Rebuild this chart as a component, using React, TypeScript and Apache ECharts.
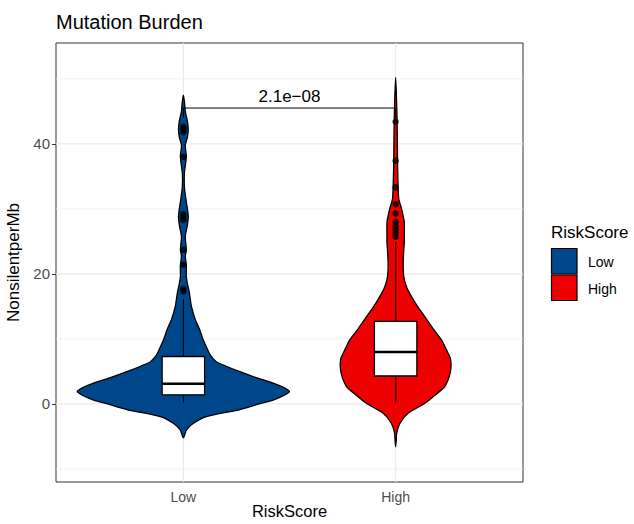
import React, { useEffect, useRef } from 'react';
import * as echarts from 'echarts';

// Groups and their positions on the x scale
const categories = ['Low', 'High'];
const categoryPositions = [1, 2];

// Violin outlines: NonsilentperMb value and half-width (x units) of the density
const lowViolinY = [-5.2, -4.0, -3.0, -1.95, -0.9, 0.0, 0.6, 1.3, 1.9, 2.5, 3.2, 4.0, 5.0, 5.8, 6.5, 7.5, 8.8, 10, 11.4, 13, 15, 16.5, 17.5, 18.5, 19.6, 21.4, 22.7, 23.7, 25.7, 27.5, 28.8, 30, 31.5, 33.4, 35.5, 38, 39.8, 41, 42.2, 43.5, 45, 46.5, 47.5];
const lowViolinHalfWidth = [0, 0.015, 0.046, 0.108, 0.263, 0.357, 0.423, 0.474, 0.5, 0.474, 0.423, 0.347, 0.263, 0.202, 0.155, 0.127, 0.108, 0.092, 0.077, 0.056, 0.038, 0.031, 0.026, 0.019, 0.014, 0.014, 0.009, 0.014, 0.009, 0.019, 0.023, 0.019, 0.012, 0.005, 0.005, 0.014, 0.009, 0.019, 0.023, 0.019, 0.009, 0.005, 0];
const highViolinY = [-6.6, -5.5, -4.5, -3.0, -1.4, 0.1, 1.4, 2.65, 3.6, 4.5, 5.4, 6.25, 7.1, 8, 9.85, 11.5, 13.4, 15, 16.5, 17.8, 19.1, 20.5, 22.2, 24, 24.9, 26.5, 27.9, 29, 30, 31.5, 33.3, 35.5, 37.5, 40.5, 43.4, 47, 50.2];
const highViolinHalfWidth = [0, 0.003, 0.005, 0.020, 0.060, 0.138, 0.188, 0.231, 0.246, 0.255, 0.260, 0.261, 0.257, 0.244, 0.216, 0.178, 0.138, 0.103, 0.075, 0.054, 0.041, 0.036, 0.036, 0.039, 0.041, 0.041, 0.041, 0.035, 0.028, 0.015, 0.012, 0.010, 0.009, 0.008, 0.007, 0.004, 0];

// Box statistics: lower whisker, Q1, median, Q3, upper whisker
const lowBoxStats = [0.2, 1.4, 3.1, 7.3, 16.1];
const highBoxStats = [0.2, 4.3, 8.0, 12.7, 24.9];

// Points beyond the whiskers
const lowOutliers = [17.3, 17.7, 21.4, 23.7, 28.3, 28.8, 29.2, 38.0, 41.8, 42.3, 42.6];
const highOutliers = [25.7, 26.2, 26.8, 27.3, 28.0, 29.3, 30.7, 33.3, 37.4, 43.4];

// Axis ticks and grid
const yTickValues = [0, 20, 40];
const yMinorValues = [-10, 10, 30, 50];

// Wilcoxon comparison bracket
const pValueText = '2.1e\u221208';
const bracketLevel = 45.5;
const bracketTipLevel = 44.0;

const xAxisTitle = 'RiskScore';
const fillColors = ['#00468B', '#ED0000'];
const FONT = '"Liberation Sans", Arial, Helvetica, sans-serif';

const violinY = [lowViolinY, highViolinY];
const violinW = [lowViolinHalfWidth, highViolinHalfWidth];
const boxStats = [lowBoxStats, highBoxStats];
const outliers = [lowOutliers, highOutliers];

export default function App() {
  const ref = useRef<HTMLDivElement>(null);

  useEffect(() => {
    if (!ref.current) return;
    const chart = echarts.init(ref.current, null, { renderer: 'svg' });

    const gridData: number[][] = [
      ...yTickValues.map((v) => [v, 1, 0]),
      ...yMinorValues.map((v) => [v, 0, 0]),
      ...categoryPositions.map((p) => [p, 1, 1]),
    ];

    const outlierData: number[][] = [];
    outliers.forEach((list, i) => list.forEach((v) => outlierData.push([categoryPositions[i], v])));

    const option: any = {
      animation: false,
      backgroundColor: '#ffffff',
      title: {
        text: 'Mutation Burden',
        left: 56,
        top: 12,
        padding: 0,
        textStyle: { fontFamily: FONT, fontSize: 20, fontWeight: 'normal', color: '#000' },
      },
      grid: {
        left: 56,
        right: 111,
        top: 43,
        bottom: 42,
        containLabel: false,
        outerBoundsMode: 'none',
        show: true,
        borderColor: '#333333',
        borderWidth: 1,
        backgroundColor: 'transparent',
      },
      xAxis: {
        type: 'value',
        min: 0.4,
        max: 2.6,
        axisLine: { show: false },
        splitLine: { show: false },
        axisTick: {
          show: true,
          customValues: categoryPositions,
          length: 4,
          lineStyle: { color: '#333333', width: 1 },
        },
        axisLabel: {
          customValues: categoryPositions,
          formatter: (v: number) => categories[categoryPositions.indexOf(v)] ?? '',
          margin: 8,
          fontFamily: FONT,
          fontSize: 14,
          color: '#4d4d4d',
        },
      },
      yAxis: {
        type: 'value',
        min: -12,
        max: 55.5,
        name: 'NonsilentperMb',
        nameLocation: 'middle',
        nameGap: 30,
        nameTextStyle: { fontFamily: FONT, fontSize: 17, color: '#000' },
        axisLine: { show: false },
        splitLine: { show: false },
        axisTick: {
          show: true,
          customValues: yTickValues,
          length: 4,
          lineStyle: { color: '#333333', width: 1 },
        },
        axisLabel: {
          customValues: yTickValues,
          margin: 6,
          fontFamily: FONT,
          fontSize: 15,
          color: '#4d4d4d',
        },
      },
      series: [
        {
          // panel grid lines
          type: 'custom',
          data: gridData,
          silent: true,
          renderItem: (params: any, api: any) => {
            const cs = params.coordSys;
            const v = api.value(0);
            const major = api.value(1) === 1;
            const vertical = api.value(2) === 1;
            const style = { stroke: '#ebebeb', lineWidth: major ? 1.2 : 0.7 };
            if (vertical) {
              const x = api.coord([v, 0])[0];
              return { type: 'line', shape: { x1: x, y1: cs.y, x2: x, y2: cs.y + cs.height }, style };
            }
            const y = api.coord([1, v])[1];
            return { type: 'line', shape: { x1: cs.x, y1: y, x2: cs.x + cs.width, y2: y }, style };
          },
        },
        {
          // violins
          type: 'custom',
          data: categoryPositions.map((p) => [p, 0]),
          encode: { x: 0, y: 1 },
          silent: true,
          renderItem: (params: any, api: any) => {
            const i = params.dataIndex;
            const c = categoryPositions[i];
            const ys = violinY[i];
            const ws = violinW[i];
            const left = ys.map((v, k) => api.coord([c - ws[k], v]));
            const right = ys
              .slice(1, -1)
              .map((v, k) => api.coord([c + ws[k + 1], v]))
              .reverse();
            return {
              type: 'polygon',
              shape: { points: left.concat(right), smooth: 0.25 },
              style: { fill: fillColors[i], stroke: '#000', lineWidth: 1.3 },
            };
          },
        },
        {
          // boxplots
          type: 'custom',
          data: categoryPositions.map((p) => [p, 0]),
          encode: { x: 0, y: 1 },
          silent: true,
          renderItem: (params: any, api: any) => {
            const i = params.dataIndex;
            const c = categoryPositions[i];
            const s = boxStats[i];
            const hw = 0.1;
            const [xl, yq3] = api.coord([c - hw, s[3]]);
            const [xr, yq1] = api.coord([c + hw, s[1]]);
            const [xc, ylo] = api.coord([c, s[0]]);
            const yhi = api.coord([c, s[4]])[1];
            const ymed = api.coord([c, s[2]])[1];
            return {
              type: 'group',
              children: [
                { type: 'line', shape: { x1: xc, y1: ylo, x2: xc, y2: yhi }, style: { stroke: '#000', lineWidth: 1.1 } },
                {
                  type: 'rect',
                  shape: { x: xl, y: yq3, width: xr - xl, height: yq1 - yq3 },
                  style: { fill: '#ffffff', stroke: '#000', lineWidth: 1.3 },
                },
                { type: 'line', shape: { x1: xl, y1: ymed, x2: xr, y2: ymed }, style: { stroke: '#000', lineWidth: 2.6 } },
              ],
            };
          },
        },
        {
          type: 'scatter',
          data: outlierData,
          symbol: 'circle',
          symbolSize: 6.5,
          itemStyle: { color: '#000' },
          silent: true,
        },
        {
          // comparison bracket with p-value
          type: 'custom',
          data: [[categoryPositions[0], categoryPositions[1], bracketLevel]],
          encode: { x: [0, 1], y: 2 },
          silent: true,
          renderItem: (params: any, api: any) => {
            const p1 = api.coord([api.value(0), bracketLevel]);
            const p2 = api.coord([api.value(1), bracketLevel]);
            const t1 = api.coord([api.value(0), bracketTipLevel]);
            const t2 = api.coord([api.value(1), bracketTipLevel]);
            return {
              type: 'group',
              children: [
                {
                  type: 'polyline',
                  shape: { points: [t1, p1, p2, t2] },
                  style: { stroke: '#000', lineWidth: 1, fill: null },
                },
                {
                  type: 'text',
                  x: (p1[0] + p2[0]) / 2,
                  y: p1[1] - 3,
                  style: {
                    text: pValueText,
                    fill: '#000',
                    font: `17px ${FONT}`,
                    align: 'center',
                    verticalAlign: 'bottom',
                  },
                },
              ],
            };
          },
        },
      ],
      graphic: [
        {
          // x-axis title, centred under the panel
          type: 'text',
          x: 289.5,
          y: 511,
          style: {
            text: xAxisTitle,
            fill: '#000',
            font: `16.5px ${FONT}`,
            textAlign: 'center',
            textVerticalAlign: 'middle',
          },
        },
        {
          type: 'text',
          x: 551,
          y: 232,
          style: {
            text: 'RiskScore',
            fill: '#000',
            font: `17px ${FONT}`,
            textAlign: 'left',
            textVerticalAlign: 'middle',
          },
        },
        ...categories.map((c, i) => ({
          type: 'rect',
          shape: { x: 551.5, y: 248.5 + i * 26.5, width: 25.5, height: 25.5 },
          style: { fill: fillColors[i], stroke: '#000', lineWidth: 1.2 },
        })),
        ...categories.map((c, i) => ({
          type: 'text',
          x: 588,
          y: 262 + i * 27,
          style: {
            text: c,
            fill: '#000',
            font: `14px ${FONT}`,
            textAlign: 'left',
            textVerticalAlign: 'middle',
          },
        })),
      ],
    };

    chart.setOption(option);
    return () => chart.dispose();
  }, []);

  return (
    <div
      ref={ref}
      style={{ position: 'absolute', left: 0, top: 0, width: 634, height: 524, background: '#fff' }}
    />
  );
}
